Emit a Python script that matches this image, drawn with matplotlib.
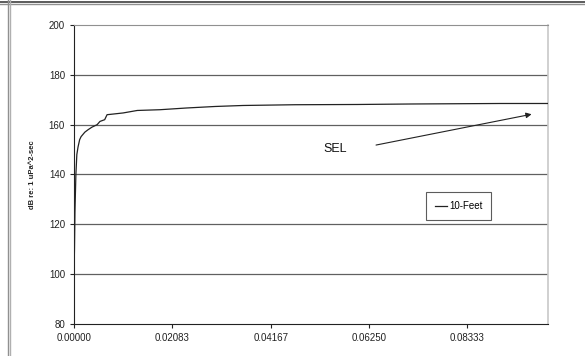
import matplotlib.pyplot as plt
from matplotlib.lines import Line2D

# SEL curve
time_s = [0.0, 0.0001, 0.0002, 0.0004, 0.0006, 0.00085, 0.0012, 0.0015, 0.0023,
          0.0030, 0.0038, 0.0049, 0.0055, 0.0065, 0.0070, 0.0080, 0.0104,
          0.0134, 0.0182, 0.0239, 0.0299, 0.0358, 0.0468, 0.0600, 0.0716,
          0.0903, 0.1004]
sel_db = [100.0, 110.0, 125.0, 140.0, 148.0, 151.0, 154.0, 155.2, 157.0,
          158.0, 159.0, 160.0, 161.3, 162.0, 164.0, 164.2, 164.7,
          165.7, 166.0, 166.7, 167.3, 167.7, 168.0, 168.1, 168.3,
          168.5, 168.5]

x_ticks = [0.0, 1 / 48, 2 / 48, 3 / 48, 4 / 48]
y_ticks = [80, 100, 120, 140, 160, 180, 200]

plt.rcParams['font.family'] = ['Liberation Sans', 'DejaVu Sans']

fig = plt.figure(figsize=(5.85, 3.56), dpi=100)
ax = fig.add_axes([74 / 585, 1 - 324 / 356, 474 / 585, 299 / 356])

# outer frame of the chart area
fig.add_artist(Line2D([0, 1], [1 - 1.5 / 356] * 2, color='#404040', lw=1.2, transform=fig.transFigure))
fig.add_artist(Line2D([0, 1], [1 - 4 / 356] * 2, color='#909090', lw=1.0, transform=fig.transFigure))
fig.add_artist(Line2D([7.5 / 585] * 2, [0, 1], color='#909090', lw=1.0, transform=fig.transFigure))
fig.add_artist(Line2D([10 / 585] * 2, [0, 1], color='#b0b0b0', lw=1.0, transform=fig.transFigure))

for y in y_ticks[1:-1]:
    ax.axhline(y, color='#606060', lw=0.9, zorder=1)

ax.plot(time_s, sel_db, color='#222222', lw=0.9, label='10-Feet', zorder=3)

ax.set_xlim(0, 0.1004)
ax.set_ylim(80, 200)
ax.set_yticks(y_ticks)
ax.set_xticks(x_ticks)
ax.set_xticklabels([f'{t:.5f}' for t in x_ticks])
ax.tick_params(axis='both', labelsize=7, colors='#222222', length=3, width=0.8, direction='out')

ax.spines['left'].set_color('#222222')
ax.spines['bottom'].set_color('#222222')
ax.spines['top'].set_color('#909090')
ax.spines['right'].set_color('#c8c8c8')
ax.spines['right'].set_linewidth(1.2)

fig.text(32 / 585, 1 - 175 / 356, 'dB re: 1 uPa^2-sec', rotation=90, fontsize=5.5,
         fontweight='bold', ha='center', va='center', color='#222222')

ax.annotate('', xy=(0.0975, 164.4), xytext=(0.0634, 151.6),
            arrowprops=dict(arrowstyle='-|>', color='#222222', lw=0.8, mutation_scale=8))
ax.text(0.0553, 150.2, 'SEL', fontsize=9, ha='center', va='center', color='#111111')

leg = ax.legend(loc='upper left', bbox_to_anchor=((426 - 74) / 474, (324 - 192) / 299),
                fontsize=7, frameon=True, fancybox=False, handlelength=1.2,
                borderpad=0.95, handletextpad=0.2, borderaxespad=0)
leg.get_frame().set_edgecolor('#333333')
leg.get_frame().set_linewidth(0.8)

fig.savefig('out.png', dpi=100)
